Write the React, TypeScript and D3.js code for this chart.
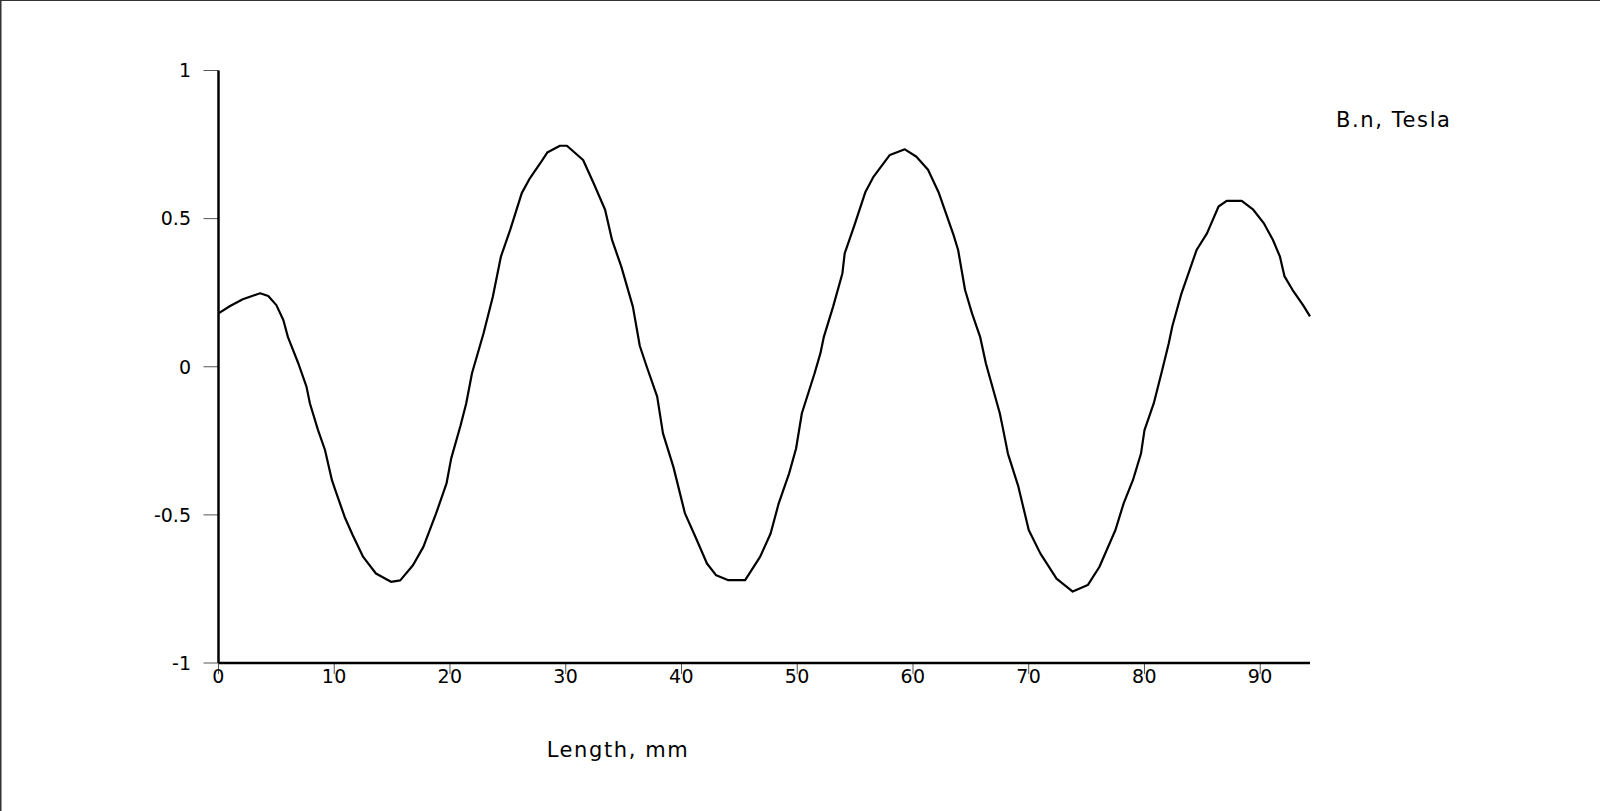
import React from "react";
import * as d3 from "d3";

const lengthMm: number[] = [
  0.0, 1.0, 2.1, 3.6, 4.3, 5.0, 5.6, 6.0, 6.9, 7.6, 7.9, 8.6, 9.2, 9.8, 10.1, 10.9, 11.6, 12.5, 13.6, 14.9,
  15.7, 16.8, 17.7, 18.8, 19.7, 20.1, 20.9, 21.4, 21.9, 22.9, 23.7, 24.4, 25.2, 26.2, 26.9, 27.8, 28.4, 29.5,
  30.1, 31.5, 32.4, 33.4, 34.0, 34.8, 35.8, 36.4, 37.0, 37.9, 38.4, 39.3, 40.3, 41.2, 42.2, 43.0, 44.0, 45.5,
  46.8, 47.7, 48.4, 49.3, 49.9, 50.4, 51.5, 52.0, 52.3, 53.1, 53.9, 54.1, 54.9, 55.9, 56.6, 58.0, 59.3, 60.3,
  61.3, 62.2, 63.5, 63.9, 64.5, 65.1, 65.8, 66.3, 67.5, 67.8, 68.2, 69.1, 70.0, 71.0, 72.4, 73.8, 75.1, 76.1,
  77.5, 78.2, 79.0, 79.7, 80.0, 80.8, 81.5, 82.1, 82.4, 83.2, 84.5, 85.4, 86.4, 87.1, 88.4, 89.4, 90.3, 91.1,
  91.7, 92.1, 92.8, 93.7, 94.3,
];

const bnTesla: number[] = [
  0.18, 0.205, 0.228, 0.248, 0.239, 0.208, 0.158, 0.1, 0.011, -0.067, -0.124, -0.214, -0.281, -0.383, -0.417,
  -0.507, -0.569, -0.642, -0.698, -0.726, -0.721, -0.67, -0.608, -0.495, -0.394, -0.31, -0.2, -0.124, -0.022,
  0.113, 0.236, 0.372, 0.462, 0.586, 0.636, 0.687, 0.723, 0.746, 0.746, 0.698, 0.62, 0.53, 0.428, 0.338, 0.203,
  0.07, 0.0, -0.101, -0.225, -0.338, -0.495, -0.574, -0.664, -0.704, -0.72, -0.72, -0.641, -0.563, -0.461,
  -0.36, -0.276, -0.157, -0.022, 0.045, 0.101, 0.203, 0.315, 0.383, 0.473, 0.591, 0.642, 0.715, 0.734, 0.709,
  0.665, 0.59, 0.445, 0.394, 0.259, 0.18, 0.101, 0.011, -0.157, -0.214, -0.293, -0.404, -0.551, -0.63, -0.715,
  -0.759, -0.737, -0.676, -0.55, -0.461, -0.383, -0.293, -0.214, -0.124, -0.016, 0.079, 0.136, 0.248, 0.394,
  0.45, 0.541, 0.56, 0.56, 0.53, 0.485, 0.428, 0.372, 0.305, 0.259, 0.208, 0.17,
];

const xTicks: number[] = [0, 10, 20, 30, 40, 50, 60, 70, 80, 90];
const yTicks: number[] = [-1, -0.5, 0, 0.5, 1];
const xTitle = "Length, mm";
const yTitle = "B.n, Tesla";

export default function App() {
  const W = 1600;
  const H = 811;
  const x = d3.scaleLinear().domain([0, 94.3]).range([218.5, 1310]);
  const y = d3.scaleLinear().domain([-1, 1]).range([663, 70.5]);
  const pts: [number, number][] = lengthMm.map((v, i) => [v, bnTesla[i]]);
  const line = d3
    .line<[number, number]>()
    .x((d) => x(d[0]))
    .y((d) => y(d[1]));
  const font = "'DejaVu Sans', Verdana, sans-serif";
  return (
    <svg
      width={W}
      height={H}
      style={{ position: "fixed", left: 0, top: 0, background: "#fff" }}
    >
      <rect x={0} y={0} width={W} height={H} fill="#fff" />
      <line x1={0} y1={0.5} x2={W} y2={0.5} stroke="#333" strokeWidth={1} />
      <line x1={0.75} y1={0} x2={0.75} y2={H} stroke="#333" strokeWidth={1.5} />
      {yTicks.map((t) => (
        <g key={"y" + t}>
          <line x1={x(0) - 15} x2={x(0)} y1={y(t)} y2={y(t)} stroke="#555" strokeWidth={1} />
          <text
            x={191}
            y={y(t)}
            dy="0.36em"
            textAnchor="end"
            fontFamily={font}
            fontSize={19}
            fill="#000"
          >
            {String(t)}
          </text>
        </g>
      ))}
      {xTicks.map((t) => (
        <g key={"x" + t}>
          <line x1={x(t)} x2={x(t)} y1={y(-1)} y2={y(-1) + 11} stroke="#555" strokeWidth={1} />
          <text
            x={x(t)}
            y={y(-1) + 20}
            textAnchor="middle"
            fontFamily={font}
            fontSize={19}
            letterSpacing={0.5}
            fill="#000"
          >
            {String(t)}
          </text>
        </g>
      ))}
      <line x1={x(0)} x2={x(0)} y1={y(1)} y2={y(-1)} stroke="#000" strokeWidth={2.5} />
      <line x1={x(0)} x2={x(94.3)} y1={y(-1)} y2={y(-1)} stroke="#000" strokeWidth={2.5} />
      <path d={line(pts) || ""} fill="none" stroke="#000" strokeWidth={2.2} strokeLinejoin="round" />
      <text x={618} y={757} textAnchor="middle" fontFamily={font} fontSize={21} letterSpacing={1.6} fill="#000">
        {xTitle}
      </text>
      <text x={1336} y={127} textAnchor="start" fontFamily={font} fontSize={21} letterSpacing={1.6} fill="#000">
        {yTitle}
      </text>
    </svg>
  );
}
